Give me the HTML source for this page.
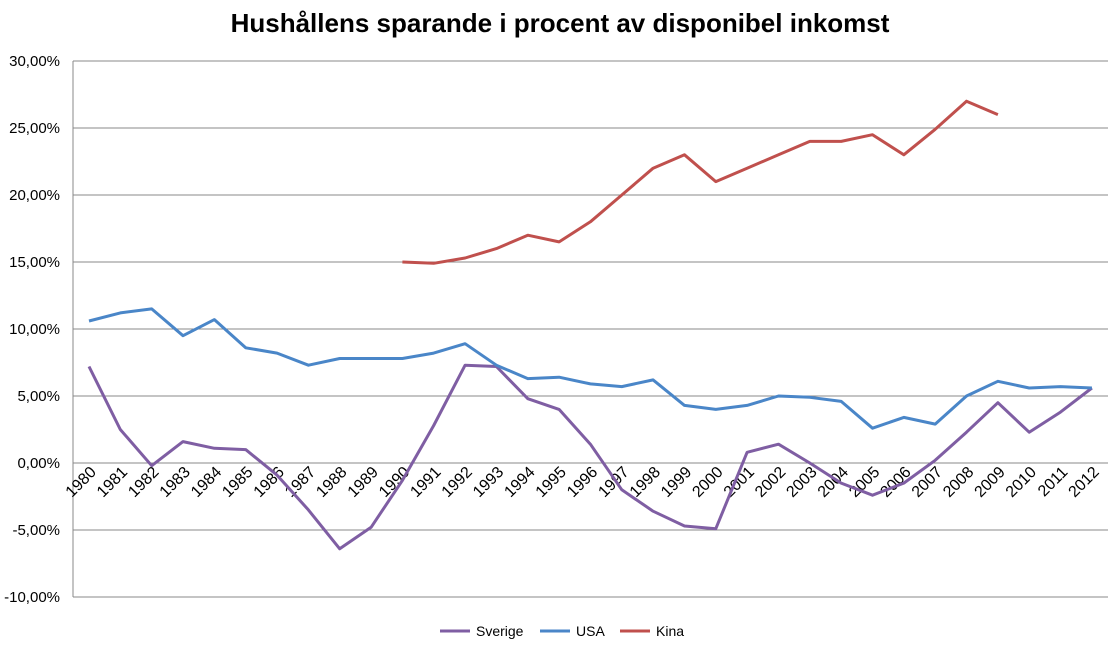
<!DOCTYPE html>
<html><head><meta charset="utf-8"><style>body{margin:0;background:#fff}svg{display:block}</style></head><body>
<svg id="c" width="1116" height="645" xmlns="http://www.w3.org/2000/svg" font-family="Liberation Sans, sans-serif">
<text x="560" y="32" text-anchor="middle" font-size="26" font-weight="bold">Hushållens sparande i procent av disponibel inkomst</text>
<g id="g"></g>
</svg>
<script>
var g=document.getElementById('g'),s='';
function Y(v){return 463-v*13.4}
function X(i){return 89+31.34*i}
var labs=['30,00%','25,00%','20,00%','15,00%','10,00%','5,00%','0,00%','-5,00%','-10,00%'];
for(var k=0;k<9;k++){var y=61+67*k;s+='<line x1="73" x2="1108" y1="'+y+'" y2="'+y+'" stroke="#888" stroke-width="1"/>';s+='<text x="60" y="'+(y+5)+'" text-anchor="end" font-size="15">'+labs[k]+'</text>';}
s+='<line x1="73" x2="73" y1="61" y2="597" stroke="#888"/>';
for(var i=0;i<33;i++){var x=X(i)+8;s+='<text transform="translate('+x+',473) rotate(-45)" text-anchor="end" font-size="16">'+(1980+i)+'</text>';}
function line(d,off,c){var p=d.map(function(v,i){return X(i+off).toFixed(1)+','+Y(v).toFixed(1)}).join(' ');s+='<polyline points="'+p+'" fill="none" stroke="'+c+'" stroke-width="3" stroke-linejoin="round"/>';}
line([7.2,2.5,-0.2,1.6,1.1,1.0,-0.9,-3.5,-6.4,-4.8,-1.3,2.8,7.3,7.2,4.8,4.0,1.4,-2.0,-3.6,-4.7,-4.9,0.8,1.4,0.0,-1.5,-2.4,-1.5,0.2,2.3,4.5,2.3,3.8,5.6],0,'#7f5ea3');
line([10.6,11.2,11.5,9.5,10.7,8.6,8.2,7.3,7.8,7.8,7.8,8.2,8.9,7.3,6.3,6.4,5.9,5.7,6.2,4.3,4.0,4.3,5.0,4.9,4.6,2.6,3.4,2.9,5.0,6.1,5.6,5.7,5.6],0,'#4a86c8');
line([15,14.9,15.3,16,17,16.5,18,20,22,23,21,22,23,24,24,24.5,23,24.9,27,26],10,'#c0504d');
var L=[['Sverige','#7f5ea3',440],['USA','#4a86c8',540],['Kina','#c0504d',620]];
L.forEach(function(l){s+='<line x1="'+l[2]+'" x2="'+(l[2]+30)+'" y1="631" y2="631" stroke="'+l[1]+'" stroke-width="3"/><text x="'+(l[2]+36)+'" y="636" font-size="14">'+l[0]+'</text>';});
g.innerHTML=s;
</script>
</body></html>
